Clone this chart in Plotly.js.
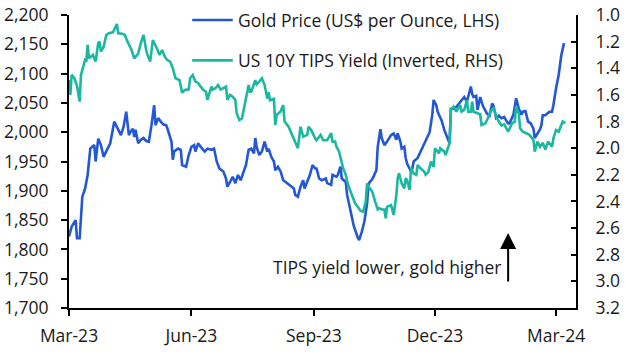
<!DOCTYPE html>
<html>
<head>
<meta charset="utf-8">
<script src="https://cdn.plot.ly/plotly-3.0.1.min.js"></script>
<style>html,body{margin:0;padding:0;background:#fff;}#chart{width:627px;height:353px;}</style>
</head>
<body>
<div id="chart"></div>
<script>
const goldDates = ['2023-03-01','2023-03-03','2023-03-06','2023-03-07','2023-03-09','2023-03-10','2023-03-11','2023-03-13','2023-03-14','2023-03-15','2023-03-17','2023-03-20','2023-03-21','2023-03-23','2023-03-25','2023-03-27','2023-03-30','2023-04-01','2023-04-04','2023-04-07','2023-04-09','2023-04-11','2023-04-13','2023-04-15','2023-04-16','2023-04-18','2023-04-19','2023-04-20','2023-04-22','2023-04-24','2023-04-26','2023-04-28','2023-04-30','2023-05-02','2023-05-04','2023-05-05','2023-05-07','2023-05-09','2023-05-11','2023-05-13','2023-05-14','2023-05-17','2023-05-18','2023-05-19','2023-05-22','2023-05-24','2023-05-25','2023-05-28','2023-05-30','2023-06-01','2023-06-03','2023-06-04','2023-06-06','2023-06-08','2023-06-11','2023-06-13','2023-06-16','2023-06-18','2023-06-20','2023-06-22','2023-06-25','2023-06-27','2023-06-28','2023-06-30','2023-07-02','2023-07-04','2023-07-06','2023-07-08','2023-07-10','2023-07-12','2023-07-14','2023-07-16','2023-07-18','2023-07-19','2023-07-20','2023-07-22','2023-07-24','2023-07-26','2023-07-28','2023-07-29','2023-07-31','2023-08-02','2023-08-03','2023-08-05','2023-08-07','2023-08-09','2023-08-12','2023-08-14','2023-08-17','2023-08-18','2023-08-20','2023-08-22','2023-08-24','2023-08-25','2023-08-27','2023-08-29','2023-08-31','2023-09-02','2023-09-03','2023-09-05','2023-09-07','2023-09-10','2023-09-11','2023-09-14','2023-09-15','2023-09-18','2023-09-19','2023-09-21','2023-09-22','2023-09-25','2023-09-26','2023-09-29','2023-10-01','2023-10-04','2023-10-05','2023-10-07','2023-10-09','2023-10-11','2023-10-12','2023-10-13','2023-10-15','2023-10-16','2023-10-18','2023-10-19','2023-10-21','2023-10-22','2023-10-24','2023-10-26','2023-10-29','2023-10-31','2023-11-02','2023-11-03','2023-11-05','2023-11-06','2023-11-08','2023-11-09','2023-11-10','2023-11-13','2023-11-14','2023-11-15','2023-11-18','2023-11-19','2023-11-22','2023-11-24','2023-11-27','2023-11-28','2023-11-29','2023-11-30','2023-12-02','2023-12-03','2023-12-04','2023-12-06','2023-12-08','2023-12-11','2023-12-12','2023-12-13','2023-12-15','2023-12-17','2023-12-21','2023-12-23','2023-12-25','2023-12-28','2023-12-29','2023-12-30','2024-01-01','2024-01-02','2024-01-04','2024-01-06','2024-01-09','2024-01-11','2024-01-13','2024-01-14','2024-01-16','2024-01-18','2024-01-20','2024-01-22','2024-01-24','2024-01-25','2024-01-26','2024-01-29','2024-01-31','2024-02-02','2024-02-04','2024-02-05','2024-02-07','2024-02-09','2024-02-11','2024-02-13','2024-02-14','2024-02-16','2024-02-18','2024-02-19','2024-02-20','2024-02-22','2024-02-25','2024-02-27','2024-02-28','2024-03-01','2024-03-03','2024-03-05','2024-03-07'];
const goldPrice = [1822,1839,1850,1819,1819,1862,1890,1903,1915,1927,1972,1978,1950,1989,1978,1958,1972,1981,2018,2004,1995,2009,2035,1995,2000,2006,1992,2004,1981,1987,1990,1985,1984,2012,2046,2012,2024,2018,2013,2012,2006,1984,1953,1967,1972,1970,1944,1941,1961,1975,1978,1967,1981,1975,1967,1972,1970,1972,1950,1938,1933,1921,1907,1915,1924,1913,1927,1918,1933,1944,1970,1972,1964,1990,1975,1961,1967,1984,1967,1972,1958,1950,1935,1941,1933,1918,1913,1910,1904,1893,1890,1907,1918,1904,1915,1927,1944,1938,1938,1921,1918,1921,1913,1910,1927,1924,1927,1941,1921,1915,1893,1861,1840,1820,1816,1830,1848,1878,1910,1915,1920,1925,1935,1975,2005,1990,1978,1984,1995,1998,1987,1998,1984,1972,1975,1956,1947,1933,1938,1950,1956,1961,1975,1986,2000,2015,2030,2055,2046,2035,2029,2020,2004,1985,1981,2040,2040,2043,2055,2060,2052,2078,2065,2060,2062,2038,2060,2045,2032,2028,2049,2045,2024,2028,2024,2026,2018,2015,2015,2030,2058,2040,2030,2035,2036,2018,2015,2006,1990,1998,2005,2012,2029,2029,2035,2035,2046,2075,2098,2132,2152];

const tipsDates = ['2023-03-01','2023-03-02','2023-03-03','2023-03-05','2023-03-07','2023-03-09','2023-03-10','2023-03-13','2023-03-14','2023-03-15','2023-03-16','2023-03-19','2023-03-21','2023-03-23','2023-03-24','2023-03-25','2023-03-27','2023-03-29','2023-03-31','2023-04-03','2023-04-06','2023-04-07','2023-04-10','2023-04-12','2023-04-14','2023-04-17','2023-04-19','2023-04-22','2023-04-24','2023-04-26','2023-04-28','2023-04-29','2023-05-01','2023-05-03','2023-05-06','2023-05-08','2023-05-10','2023-05-12','2023-05-14','2023-05-16','2023-05-18','2023-05-20','2023-05-23','2023-05-25','2023-05-27','2023-05-30','2023-05-31','2023-06-02','2023-06-04','2023-06-06','2023-06-08','2023-06-10','2023-06-12','2023-06-13','2023-06-16','2023-06-17','2023-06-19','2023-06-21','2023-06-23','2023-06-25','2023-06-27','2023-06-28','2023-06-30','2023-07-02','2023-07-04','2023-07-05','2023-07-07','2023-07-09','2023-07-12','2023-07-14','2023-07-15','2023-07-16','2023-07-19','2023-07-20','2023-07-22','2023-07-24','2023-07-26','2023-07-28','2023-07-29','2023-07-30','2023-08-02','2023-08-03','2023-08-04','2023-08-07','2023-08-09','2023-08-10','2023-08-13','2023-08-15','2023-08-18','2023-08-20','2023-08-22','2023-08-24','2023-08-27','2023-08-28','2023-08-30','2023-09-01','2023-09-02','2023-09-03','2023-09-06','2023-09-08','2023-09-11','2023-09-14','2023-09-15','2023-09-17','2023-09-18','2023-09-20','2023-09-21','2023-09-23','2023-09-25','2023-09-26','2023-09-28','2023-09-30','2023-10-02','2023-10-04','2023-10-06','2023-10-08','2023-10-10','2023-10-11','2023-10-12','2023-10-13','2023-10-15','2023-10-17','2023-10-19','2023-10-20','2023-10-22','2023-10-24','2023-10-25','2023-10-26','2023-10-29','2023-10-31','2023-11-02','2023-11-03','2023-11-04','2023-11-06','2023-11-08','2023-11-09','2023-11-10','2023-11-12','2023-11-13','2023-11-15','2023-11-17','2023-11-18','2023-11-20','2023-11-23','2023-11-24','2023-11-26','2023-11-28','2023-11-30','2023-12-01','2023-12-03','2023-12-04','2023-12-05','2023-12-08','2023-12-09','2023-12-11','2023-12-12','2023-12-13','2023-12-15','2023-12-17','2023-12-20','2023-12-21','2023-12-23','2023-12-25','2023-12-26','2023-12-28','2023-12-29','2023-12-30','2024-01-02','2024-01-04','2024-01-05','2024-01-08','2024-01-10','2024-01-12','2024-01-14','2024-01-16','2024-01-18','2024-01-20','2024-01-22','2024-01-25','2024-01-28','2024-01-30','2024-01-31','2024-02-02','2024-02-03','2024-02-05','2024-02-08','2024-02-10','2024-02-13','2024-02-14','2024-02-16','2024-02-18','2024-02-20','2024-02-22','2024-02-24','2024-02-27','2024-02-28','2024-03-01','2024-03-03','2024-03-05','2024-03-06','2024-03-08'];
const tipsYield = [1.488,1.60,1.45,1.475,1.53,1.65,1.45,1.34,1.35,1.225,1.325,1.30,1.35,1.21,1.20,1.275,1.24,1.15,1.137,1.13,1.068,1.137,1.14,1.15,1.20,1.263,1.325,1.29,1.21,1.15,1.263,1.30,1.35,1.188,1.25,1.30,1.263,1.313,1.34,1.35,1.40,1.475,1.488,1.583,1.563,1.558,1.475,1.45,1.50,1.51,1.538,1.563,1.576,1.638,1.538,1.56,1.55,1.526,1.56,1.55,1.538,1.638,1.60,1.613,1.638,1.738,1.788,1.775,1.613,1.526,1.576,1.576,1.49,1.52,1.50,1.475,1.526,1.626,1.58,1.64,1.63,1.826,1.75,1.725,1.676,1.80,1.838,1.888,1.951,2.00,1.839,1.913,1.90,1.839,1.864,1.913,1.926,1.94,1.90,1.94,1.94,1.888,1.951,1.95,1.989,2.026,2.076,2.151,2.20,2.25,2.31,2.364,2.414,2.44,2.47,2.477,2.40,2.264,2.29,2.30,2.33,2.40,2.46,2.45,2.46,2.46,2.527,2.44,2.427,2.502,2.352,2.226,2.189,2.264,2.301,2.226,2.24,2.314,2.151,2.19,2.20,2.126,2.15,2.177,2.20,2.18,2.101,2.14,2.001,2.026,2.04,2.001,2.026,2.051,1.99,1.963,1.713,1.688,1.726,1.676,1.726,1.713,1.638,1.726,1.726,1.651,1.726,1.74,1.745,1.826,1.813,1.77,1.72,1.70,1.76,1.80,1.83,1.82,1.876,1.813,1.801,1.688,1.74,1.85,1.876,1.89,1.90,1.939,2.026,1.95,1.99,1.96,2.01,1.951,1.989,1.926,1.863,1.876,1.82,1.80,1.813];

const goldName = 'Gold Price (US$ per Ounce, LHS)';
const tipsName = 'US 10Y TIPS Yield (Inverted, RHS)';
const noteText = 'TIPS yield lower, gold higher';

const FONT = 'Open Sans, Noto Sans, sans-serif';
const FS = 17.5;
const GOLD_COLOR = '#2357d4';
const TIPS_COLOR = '#1bb8a1';
const TEXT_COLOR = '#1a1a1a';

const traces = [
  {x: goldDates, y: goldPrice, name: goldName, type: 'scatter', mode: 'lines', yaxis: 'y',
   line: {color: GOLD_COLOR, width: 2.6}},
  {x: tipsDates, y: tipsYield, name: tipsName, type: 'scatter', mode: 'lines', yaxis: 'y2',
   line: {color: TIPS_COLOR, width: 2.6}}
];

// manual legend (paper coordinates)
const legendItems = [
  {name: goldName, color: GOLD_COLOR, y: 0.983},
  {name: tipsName, color: TIPS_COLOR, y: 0.845}
];
const legendShapes = legendItems.map(it => ({type: 'line', xref: 'paper', yref: 'paper',
  x0: 0.243, x1: 0.323, y0: it.y, y1: it.y, line: {color: it.color, width: 2.6}}));
const legendAnns = legendItems.map(it => ({xref: 'paper', yref: 'paper', x: 0.330, y: it.y,
  xanchor: 'left', yanchor: 'middle', text: it.name, showarrow: false,
  font: {family: FONT, size: FS, color: TEXT_COLOR}}));

const layout = {
  width: 627, height: 353,
  margin: {l: 69, r: 51, t: 15, b: 45},
  paper_bgcolor: '#fff', plot_bgcolor: '#fff',
  font: {family: FONT, size: FS, color: TEXT_COLOR},
  showlegend: false,
  xaxis: {type: 'date', range: ['2023-03-01', '2024-03-16'], tick0: '2023-03-01', dtick: 'M3',
    tickformat: '%b-%y', showgrid: false, zeroline: false, showline: true, linecolor: '#000', linewidth: 2,
    ticks: 'outside', ticklen: 6, tickwidth: 2, tickcolor: '#000', ticklabelstandoff: 5},
  yaxis: {range: [1700, 2200], dtick: 50, tickformat: ',d', showgrid: false, zeroline: false,
    showline: true, linecolor: '#000', linewidth: 2, ticks: 'outside', ticklen: 6, tickwidth: 2,
    tickcolor: '#000', ticklabelstandoff: 9},
  yaxis2: {overlaying: 'y', side: 'right', range: [3.2, 1.0], dtick: 0.2, tickformat: '.1f',
    showgrid: false, zeroline: false, showline: true, linecolor: '#000', linewidth: 2,
    ticks: 'inside', ticklen: 5, tickwidth: 2, tickcolor: '#000', ticklabelstandoff: 14},
  shapes: legendShapes,
  annotations: legendAnns.concat([
    {xref: 'x', yref: 'y', x: '2024-01-25', y: 1828, ax: 0, ay: 50, text: '', showarrow: true,
     arrowhead: 2, arrowsize: 1.6, arrowwidth: 2, arrowcolor: '#000'},
    {xref: 'paper', yref: 'paper', x: 0.858, y: 0.14, xanchor: 'right', yanchor: 'middle',
     text: noteText, showarrow: false, font: {family: FONT, size: FS, color: TEXT_COLOR}}
  ])
};
Plotly.newPlot('chart', traces, layout, {staticPlot: true, displayModeBar: false});
</script>
</body>
</html>
